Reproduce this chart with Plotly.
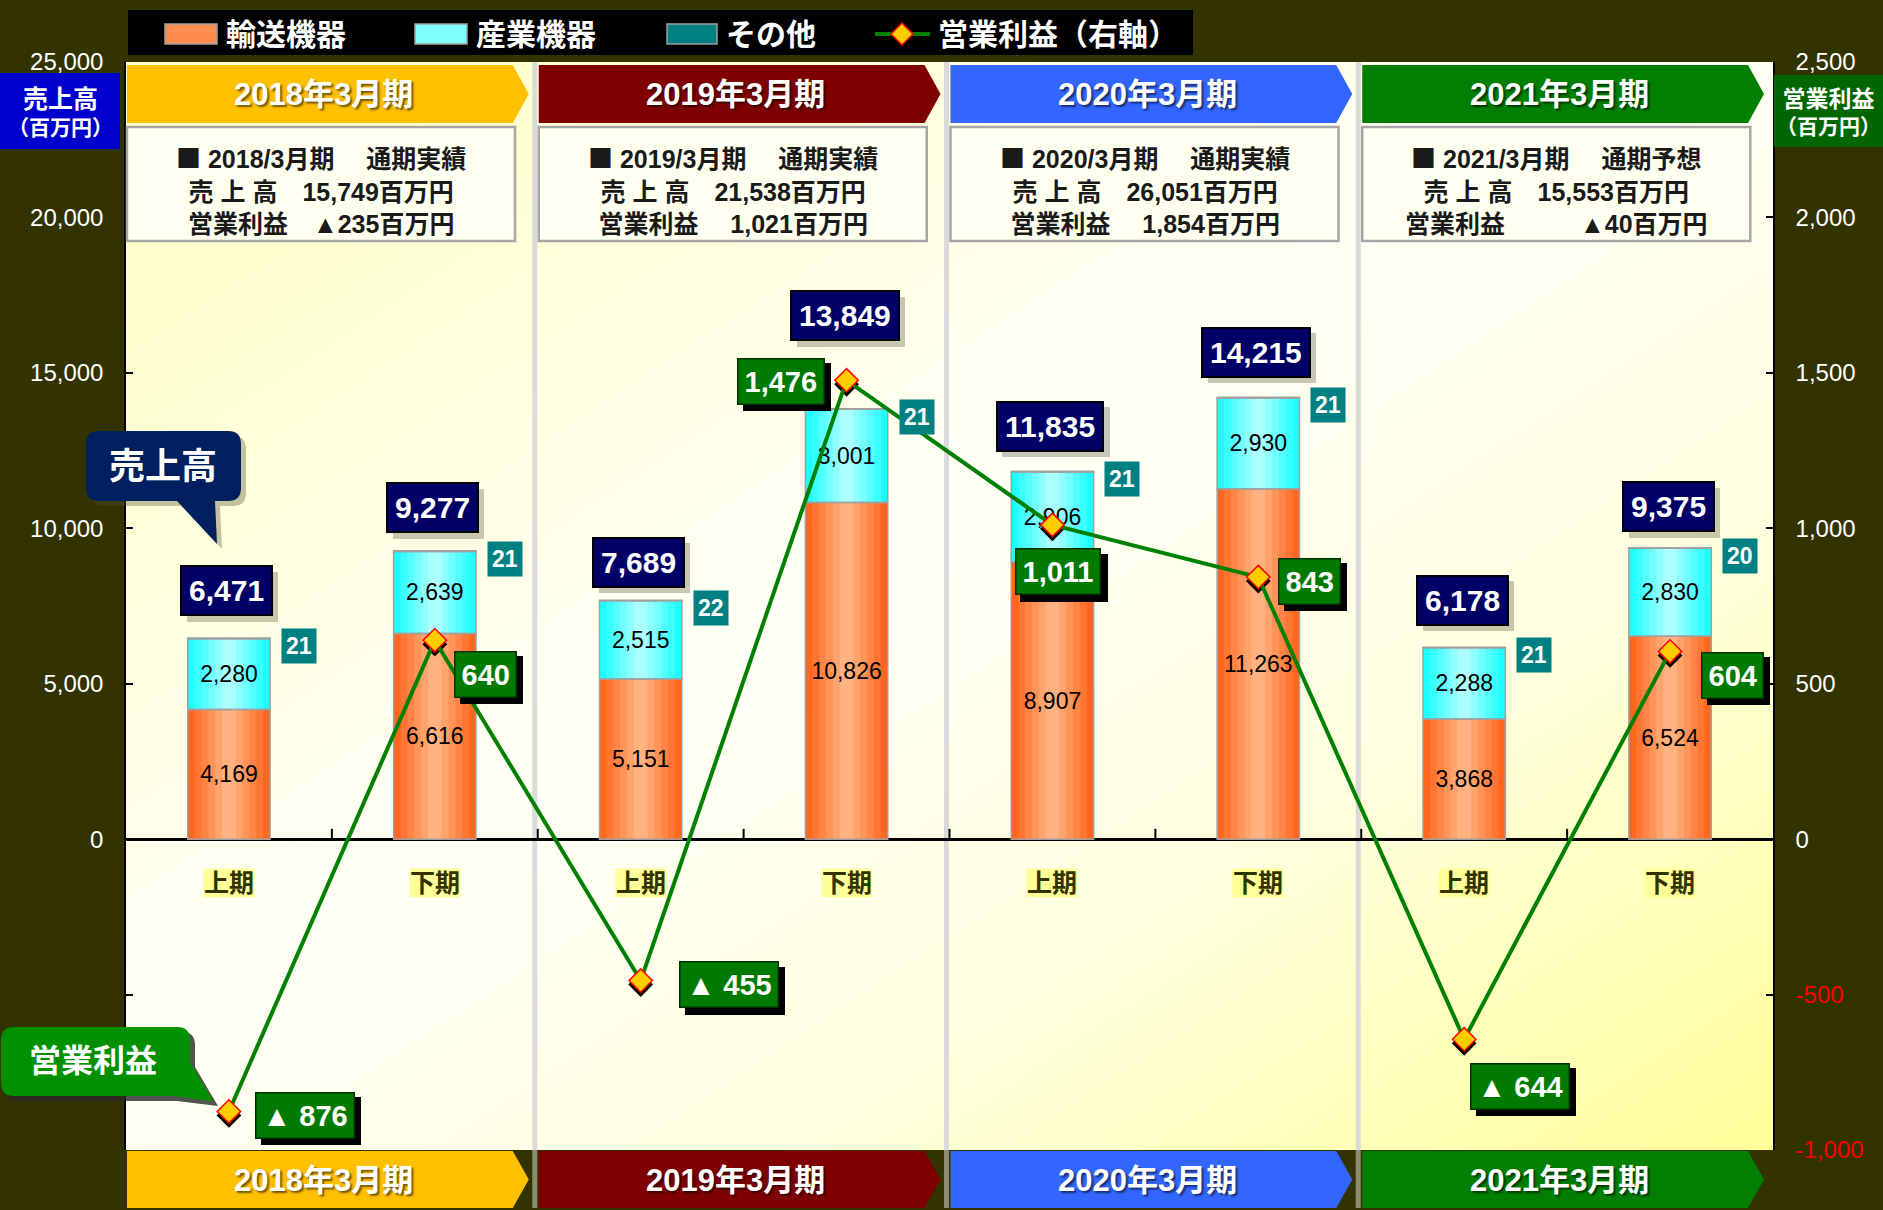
import base64
import plotly.graph_objects as go

# ---------------- data ----------------
categories = ["2018上期", "2018下期", "2019上期", "2019下期",
              "2020上期", "2020下期", "2021上期", "2021下期"]
half_labels = ["上期", "下期", "上期", "下期", "上期", "下期", "上期", "下期"]
transport = [4169, 6616, 5151, 10826, 8907, 11263, 3868, 6524]      # 輸送機器
industrial = [2280, 2639, 2515, 3001, 2906, 2930, 2288, 2830]       # 産業機器
other = [21, 21, 22, 21, 21, 21, 21, 20]                            # その他
sales_total = [6471, 9277, 7689, 13849, 11835, 14215, 6178, 9375]   # 売上高
op_profit = [-876, 640, -455, 1476, 1011, 843, -644, 604]           # 営業利益

years = ["2018年3月期", "2019年3月期", "2020年3月期", "2021年3月期"]
annual_period = ["2018/3月期", "2019/3月期", "2020/3月期", "2021/3月期"]
annual_kind = ["通期実績", "通期実績", "通期実績", "通期予想"]
annual_sales = [15749, 21538, 26051, 15553]
annual_profit = [-235, 1021, 1854, -40]

left_ticks = [-10000, -5000, 0, 5000, 10000, 15000, 20000, 25000]
right_ticks = [-1000, -500, 0, 500, 1000, 1500, 2000, 2500]
left_range = [-10000, 25000]
right_range = [-1000, 2500]

# ---------------- style / layout helpers ----------------
W, H = 1883, 1210
L, R, T, B = 126, 1773, 62, 1150
PW, PH = R - L, B - T
FONT = "Liberation Sans, Arial, Noto Sans CJK JP, sans-serif"
BG = "#333300"
# approximate advance widths (em) of Liberation Sans Bold, used to size shadow boxes
CHAR_EM = {",": 0.278, " ": 0.278, "▲": 0.99}


def text_w(s, size):
    return sum(CHAR_EM.get(ch, 0.556) for ch in s) * size


def fx(x):
    return (x - L) / PW


def fy(y):
    return (B - y) / PH


def hexc(rgb):
    return "#%02X%02X%02X" % tuple(int(round(v)) for v in rgb)


def mix(c1, c2, t):
    return hexc([a + (b - a) * t for a, b in zip(c1, c2)])


def pann(x, y, text, size, color="white", xanchor="center", **kw):
    d = dict(xref="paper", yref="paper", x=fx(x), y=fy(y), text=text, showarrow=False,
             xanchor=xanchor, yanchor="middle",
             font=dict(family=FONT, size=size, color=color, **kw.pop("fontkw", {})))
    d.update(kw)
    return d


n = len(categories)
bar_w = 0.40
total_yshift = [47, 43, 38, 93, 45, 45, 47, 41]
profit_offsets = [(76, 4), (51, 34), (88, 4), (-66, 1), (6, 47), (51, 4), (56, 47), (62, 24)]
profit_pad = ["　", "　 ", "　 ", "　　　"]
px_per_left = PH / (left_range[1] - left_range[0])
axis_ratio = (left_range[1] - left_range[0]) / (right_range[1] - right_range[0])

fig = go.Figure()

# stepped horizontal gradient for bars
layers = 6
orange_edge, orange_mid = (255, 102, 30), (255, 178, 128)
cyan_edge, cyan_mid = (30, 255, 255), (170, 255, 255)
base_ind = [a for a in transport]
base_oth = [a + b for a, b in zip(transport, industrial)]
for k in range(layers):
    w = bar_w * (1 - k / layers)
    t = k / (layers - 1)
    fig.add_bar(x=categories, y=transport, base=[0] * n, width=w,
                marker=dict(color=mix(orange_edge, orange_mid, t), line=dict(width=0)),
                hoverinfo="skip", showlegend=False)
    fig.add_bar(x=categories, y=industrial, base=base_ind, width=w,
                marker=dict(color=mix(cyan_edge, cyan_mid, t), line=dict(width=0)),
                hoverinfo="skip", showlegend=False)

fig.add_bar(x=categories, y=other, base=base_oth, width=bar_w, name="その他",
            marker=dict(color="#008080", line=dict(color="#A0A0A0", width=1.5)))
fig.add_bar(x=categories, y=transport, base=[0] * n, width=bar_w, name="輸送機器",
            marker=dict(color="rgba(0,0,0,0)", line=dict(color="#A0A0A0", width=1.5)),
            text=[f"{v:,}" for v in transport], textposition="inside",
            insidetextanchor="middle", textangle=0, constraintext="none",
            textfont=dict(family=FONT, size=23, color="black"))
fig.add_bar(x=categories, y=industrial, base=base_ind, width=bar_w, name="産業機器",
            marker=dict(color="rgba(0,0,0,0)", line=dict(color="#A0A0A0", width=1.5)),
            text=[f"{v:,}" for v in industrial], textposition="inside",
            insidetextanchor="middle", textangle=0, constraintext="none",
            textfont=dict(family=FONT, size=23, color="black"))

# marker shadow (drawn on the left axis, scaled to the right axis, nudged down a few px)
fig.add_scatter(x=categories, y=[v * axis_ratio - 4 / px_per_left for v in op_profit],
                mode="markers", hoverinfo="skip", showlegend=False,
                marker=dict(symbol="diamond", size=19, color="black", line=dict(width=0)))
fig.add_scatter(x=categories, y=op_profit, yaxis="y2", mode="lines+markers", name="営業利益（右軸）",
                line=dict(color="#008000", width=4),
                marker=dict(symbol="diamond", size=18, color="#FFCC00", line=dict(color="red", width=1.5)))

shapes = []
ann = []

# background gradient image for plot area
svg = ('<svg xmlns="http://www.w3.org/2000/svg" width="200" height="200" preserveAspectRatio="none">'
       '<defs><linearGradient id="g" x1="0" y1="0" x2="1" y2="1">'
       '<stop offset="0" stop-color="#FFFFC0"/><stop offset="0.45" stop-color="#FFFFF6"/>'
       '<stop offset="0.7" stop-color="#FFFFE0"/><stop offset="1" stop-color="#FFFF99"/>'
       '</linearGradient></defs><rect width="200" height="200" fill="url(#g)"/></svg>')
src = "data:image/svg+xml;base64," + base64.b64encode(svg.encode()).decode()
images = [dict(source=src, xref="paper", yref="paper", x=0, y=1, sizex=1, sizey=1,
               sizing="stretch", xanchor="left", yanchor="top", layer="below")]

# year separators
ny = len(years)
bounds = [L + k * PW / ny for k in range(ny + 1)]
for k in range(1, ny):
    shapes.append(dict(type="line", xref="paper", yref="paper", x0=fx(bounds[k] - 3), x1=fx(bounds[k] - 3),
                       y0=0, y1=1, line=dict(color="#DADADA", width=5), layer="below"))
    shapes.append(dict(type="line", xref="paper", yref="paper", x0=fx(bounds[k] - 3), x1=fx(bounds[k] - 3),
                       y0=fy(B), y1=fy(1208), line=dict(color="#8C8C70", width=5), layer="above"))

# category boundary ticks on zero line
for i in range(1, n):
    shapes.append(dict(type="line", xref="paper", yref="y", x0=i / n, x1=i / n, y0=0, y1=330,
                       line=dict(color="black", width=2)))

# year header arrows (top & bottom), info boxes
year_colors = ["#FFC000", "#7F0000", "#3366FF", "#007F00"]


def arrow_path(x0, xb, xt, y0, y1):
    ym = (y0 + y1) / 2
    return (f"M {fx(x0)},{fy(y0)} L {fx(xb)},{fy(y0)} L {fx(xt)},{fy(ym)} "
            f"L {fx(xb)},{fy(y1)} L {fx(x0)},{fy(y1)} Z")


SQ = '<span style="font-family:Noto Sans CJK JP">■</span>'
for k in range(ny):
    x0 = bounds[k] + 1
    xt = bounds[k + 1] - 9
    xb = xt - 16
    cx = (x0 + xb) / 2 + 4
    for (y0, y1) in [(65, 123), (1151, 1208)]:
        shapes.append(dict(type="path", xref="paper", yref="paper", path=arrow_path(x0, xb, xt, y0, y1),
                           fillcolor=year_colors[k], line=dict(width=0), layer="above"))
        ann.append(pann(cx, (y0 + y1) / 2 + 1, f"<b>{years[k]}</b>", 31,
                        fontkw=dict(shadow="2px 2px 2px rgba(0,0,0,0.55)")))
    # info box
    bx0, bx1 = bounds[k] + 1, bounds[k] + 389
    shapes.append(dict(type="rect", xref="paper", yref="paper", x0=fx(bx0), x1=fx(bx1),
                       y0=fy(127), y1=fy(241), fillcolor="#FFFFF0",
                       line=dict(color="#A6A6A6", width=2.5), layer="above"))
    p = annual_profit[k]
    ptxt = f"▲{abs(p):,}" if p < 0 else f"{p:,}"
    txt = (f"<b>{SQ} {annual_period[k]}　 {annual_kind[k]}<br>"
           f"売 上 高　{annual_sales[k]:,}百万円<br>"
           f"営業利益{profit_pad[k]}{ptxt}百万円</b>")
    ann.append(pann((bx0 + bx1) / 2, 188, txt, 25, color="#1A1A1A", align="center"))

# half-period labels
for i, c in enumerate(categories):
    ann.append(dict(x=c, y=0, xref="x", yref="y", yshift=-44, showarrow=False,
                    xanchor="center", yanchor="middle",
                    text=f"<b>{half_labels[i]}</b>", bgcolor="#FFFF99", borderpad=0,
                    font=dict(family=FONT, size=25, color="#333300")))

# total labels
TS = 30
for i, c in enumerate(categories):
    s = f"{sales_total[i]:,}"
    ann.append(dict(x=c, y=sales_total[i], xref="x", yref="y", showarrow=False,
                    xanchor="center", yanchor="middle",
                    xshift=4, yshift=total_yshift[i] - 6, text=" ",
                    width=text_w(s, TS), height=34,
                    bgcolor="rgba(70,70,40,0.30)", borderwidth=2, bordercolor="rgba(0,0,0,0)", borderpad=7,
                    font=dict(family=FONT, size=TS, color="rgba(0,0,0,0)")))
    ann.append(dict(x=c, y=sales_total[i], xref="x", yref="y", showarrow=False,
                    xanchor="center", yanchor="middle",
                    xshift=-2, yshift=total_yshift[i], text=f"<b>{s}</b>",
                    bgcolor="#000066", borderwidth=2, bordercolor="#000000", borderpad=7,
                    font=dict(family=FONT, size=TS, color="white")))
    # その他 labels
    ann.append(dict(x=c, y=sales_total[i], xref="x", yref="y", showarrow=False,
                    xanchor="center", yanchor="middle",
                    xshift=70, yshift=-8, text=f"<b>{other[i]}</b>",
                    bgcolor="#008080", borderpad=4,
                    font=dict(family=FONT, size=23, color="white")))

# operating profit labels
PS = 29
for i, c in enumerate(categories):
    v = op_profit[i]
    s = f"▲ {abs(v):,}" if v < 0 else f"{v:,}"
    dx, dy = profit_offsets[i]
    ann.append(dict(x=c, y=v, xref="x", yref="y2", showarrow=False,
                    xanchor="center", yanchor="middle",
                    xshift=dx + 6, yshift=-dy - 6, text=" ",
                    width=text_w(s, PS), height=33,
                    bgcolor="black", borderwidth=1.5, bordercolor="black", borderpad=6,
                    font=dict(family=FONT, size=PS, color="rgba(0,0,0,0)")))
    ann.append(dict(x=c, y=v, xref="x", yref="y2", showarrow=False,
                    xanchor="center", yanchor="middle",
                    xshift=dx, yshift=-dy, text=f"<b>{s}</b>",
                    bgcolor="#007A00", borderwidth=1.5, bordercolor="#003300", borderpad=6,
                    font=dict(family=FONT, size=PS, color="white")))

# legend (custom)
shapes.append(dict(type="rect", xref="paper", yref="paper", x0=fx(128), x1=fx(1193), y0=fy(10), y1=fy(55),
                   fillcolor="black", line=dict(width=0)))
leg = [("輸送機器", 165, 217, "#FF8C50"), ("産業機器", 415, 467, "#80FFFF"), ("その他", 667, 717, "#008080")]
for name, a, b, col in leg:
    shapes.append(dict(type="rect", xref="paper", yref="paper", x0=fx(a), x1=fx(b), y0=fy(24), y1=fy(44),
                       fillcolor=col, line=dict(color="#A0A0A0", width=1.5)))
    ann.append(pann(b + 7, 34, f"<b>{name}</b>", 30, xanchor="left"))
shapes.append(dict(type="line", xref="paper", yref="paper", x0=fx(875), x1=fx(930), y0=fy(34), y1=fy(34),
                   line=dict(color="#008000", width=4)))
dcx, dcy, dr = 902, 34, 11
shapes.append(dict(type="path", xref="paper", yref="paper",
                   path=(f"M {fx(dcx - dr)},{fy(dcy)} L {fx(dcx)},{fy(dcy - dr)} L {fx(dcx + dr)},{fy(dcy)} "
                         f"L {fx(dcx)},{fy(dcy + dr)} Z"),
                   fillcolor="#FFCC00", line=dict(color="red", width=1.5)))
ann.append(pann(936, 34, "<b>営業利益（右軸）</b>", 30, xanchor="left"))

# axis title boxes
shapes.append(dict(type="rect", xref="paper", yref="paper", x0=fx(0), x1=fx(120), y0=fy(73), y1=fy(149),
                   fillcolor="#0000CC", line=dict(width=0)))
ann.append(pann(60, 112, "<b><span style='font-size:25px'>売上高</span><br>（百万円）</b>", 21))
shapes.append(dict(type="rect", xref="paper", yref="paper", x0=fx(1774), x1=fx(1883), y0=fy(75), y1=fy(147),
                   fillcolor="#006600", line=dict(width=0)))
ann.append(pann(1828, 112, "<b><span style='font-size:23px'>営業利益</span><br>（百万円）</b>", 21))


# callout bubbles
def bubble(x0, y0, x1, y1, r, tail):
    pts = [f"M {fx(x0 + r)},{fy(y0)}", f"L {fx(x1 - r)},{fy(y0)}",
           f"Q {fx(x1)},{fy(y0)} {fx(x1)},{fy(y0 + r)}"]
    pts += tail
    pts += [f"L {fx(x0 + r)},{fy(y1)}", f"Q {fx(x0)},{fy(y1)} {fx(x0)},{fy(y1 - r)}",
            f"L {fx(x0)},{fy(y0 + r)}", f"Q {fx(x0)},{fy(y0)} {fx(x0 + r)},{fy(y0)}", "Z"]
    return " ".join(pts)


def sales_bubble(o):
    x0, y0, x1, y1, r = 86 + o, 431 + o, 241 + o, 501 + o, 13
    tail = [f"L {fx(x1)},{fy(y1 - r)}", f"Q {fx(x1)},{fy(y1)} {fx(x1 - r)},{fy(y1)}",
            f"L {fx(215 + o)},{fy(y1)}", f"L {fx(217 + o)},{fy(544 + o)}", f"L {fx(177 + o)},{fy(y1)}"]
    return bubble(x0, y0, x1, y1, r, tail)


def profit_bubble(o):
    x0, y0, x1, y1, r = 1 + o, 1027 + o, 190 + o, 1096 + o, 13
    tail = [f"L {fx(x1)},{fy(1062 + o)}", f"L {fx(213 + o)},{fy(1101 + o)}", f"L {fx(172 + o)},{fy(y1)}"]
    return bubble(x0, y0, x1, y1, r, tail)


shapes.append(dict(type="path", xref="paper", yref="paper", path=sales_bubble(5),
                   fillcolor="rgba(80,80,50,0.35)", line=dict(width=0)))
shapes.append(dict(type="path", xref="paper", yref="paper", path=sales_bubble(0),
                   fillcolor="#002060", line=dict(width=0)))
ann.append(pann(163, 466, "<b>売上高</b>", 36))
shapes.append(dict(type="path", xref="paper", yref="paper", path=profit_bubble(5),
                   fillcolor="rgba(40,40,40,0.8)", line=dict(width=0)))
shapes.append(dict(type="path", xref="paper", yref="paper", path=profit_bubble(0),
                   fillcolor="#009000", line=dict(width=0)))
ann.append(pann(93, 1061, "<b>営業利益</b>", 32))

left_text = [f"{v:,}" if v >= 0 else "" for v in left_ticks]
right_text = [f"{v:,}" if v >= 0 else f"<span style='color:#FF0000'>{v:,}</span>" for v in right_ticks]

fig.update_layout(
    width=W, height=H,
    margin=dict(l=L, r=W - R, t=T, b=H - B, pad=0),
    paper_bgcolor=BG, plot_bgcolor="rgba(0,0,0,0)",
    barmode="overlay", showlegend=False,
    xaxis=dict(type="category", categoryorder="array", categoryarray=categories,
               range=[-0.5, n - 0.5], showticklabels=False, ticks="", showgrid=False,
               zeroline=False, showline=False),
    yaxis=dict(range=left_range, tickvals=left_ticks, ticktext=left_text,
               ticks="inside", ticklen=7, tickwidth=1.5, tickcolor="black",
               showline=True, linecolor="black", linewidth=1.5, showgrid=False,
               zeroline=True, zerolinecolor="black", zerolinewidth=3,
               tickfont=dict(family=FONT, size=24, color="white"), ticklabelstandoff=16),
    yaxis2=dict(range=right_range, tickvals=right_ticks, ticktext=right_text,
                overlaying="y", side="right", ticks="inside", ticklen=7, tickwidth=1.5,
                tickcolor="black", showline=True, linecolor="black", linewidth=1.5,
                showgrid=False, zeroline=False,
                tickfont=dict(family=FONT, size=24, color="white"), ticklabelstandoff=16),
    shapes=shapes, annotations=ann, images=images,
)

fig.write_html("out.html", config={"displayModeBar": False},
               post_script="document.body.style.margin='0';")
